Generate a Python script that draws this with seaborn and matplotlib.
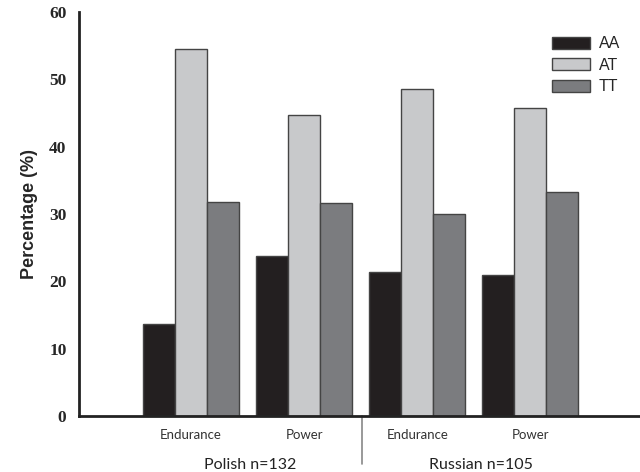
import matplotlib
matplotlib.use("Agg")
import matplotlib.pyplot as plt
import seaborn as sns
import pandas as pd

categories = ["Polish Endurance", "Polish Power", "Russian Endurance", "Russian Power"]
tick_labels = ["Endurance", "Power", "Endurance", "Power"]
genotypes = ["AA", "AT", "TT"]
aa_values = [13.6, 23.7, 21.4, 21.0]
at_values = [54.5, 44.7, 48.6, 45.7]
tt_values = [31.8, 31.6, 30.0, 33.3]
group_labels = ["Polish n=132", "Russian n=105"]

rows = []
for g, vals in zip(genotypes, [aa_values, at_values, tt_values]):
    for c, v in zip(categories, vals):
        rows.append({"cat": c, "geno": g, "val": v})
df = pd.DataFrame(rows)

sns.set_style("white")
fig = plt.figure(figsize=(6.4, 4.72), dpi=100)
ax = fig.add_axes([0.1234, 0.1186, 0.8766, 0.856])

palette = {"AA": "#231f20", "AT": "#c8c9cb", "TT": "#7b7c7f"}
sns.barplot(data=df, x="cat", y="val", hue="geno", order=categories,
            hue_order=genotypes, palette=palette, width=0.85,
            edgecolor="#444444", linewidth=1.0, saturation=1, ax=ax)

ax.set_ylim(0, 60)
ax.set_xlim(-0.991, 3.97)
ax.set_yticks(range(0, 61, 10))
ax.set_yticklabels([str(v) for v in range(0, 61, 10)],
                   family="Liberation Serif", fontweight="bold", fontsize=12.5)
ax.set_xticks(range(4))
ax.set_xticklabels(tick_labels, family="Lato", fontsize=9.5, color="#333333")
ax.set_xlabel("")
ax.set_ylabel("Percentage (%)", family="Liberation Sans", fontweight="bold",
              fontsize=13, labelpad=8)

for s in ["top", "right"]:
    ax.spines[s].set_visible(False)
for s in ["left", "bottom"]:
    ax.spines[s].set_linewidth(2)
    ax.spines[s].set_color("#222222")
ax.tick_params(axis="y", direction="out", length=6, width=1.5, color="#222222", pad=3)
ax.tick_params(axis="x", direction="out", length=5, width=1, color="#555555", pad=4)

# divider between groups
ax.plot([1.513, 1.513], [0, -0.118], transform=ax.get_xaxis_transform(),
        color="#888888", linewidth=1.2, clip_on=False)
ax.text(0.52, -0.12, group_labels[0], transform=ax.get_xaxis_transform(),
        ha="center", va="center", family="Lato", fontsize=11.5, color="#222222")
ax.text(2.56, -0.12, group_labels[1], transform=ax.get_xaxis_transform(),
        ha="center", va="center", family="Lato", fontsize=11.5, color="#222222")

leg = ax.legend(loc="upper right", bbox_to_anchor=(0.99, 0.975), frameon=False,
                handlelength=2.4, handleheight=0.75,
                labelspacing=0.4, handletextpad=0.55,
                prop={"family": "Liberation Sans", "size": 11.5})

fig.savefig("out.png", dpi=100)
